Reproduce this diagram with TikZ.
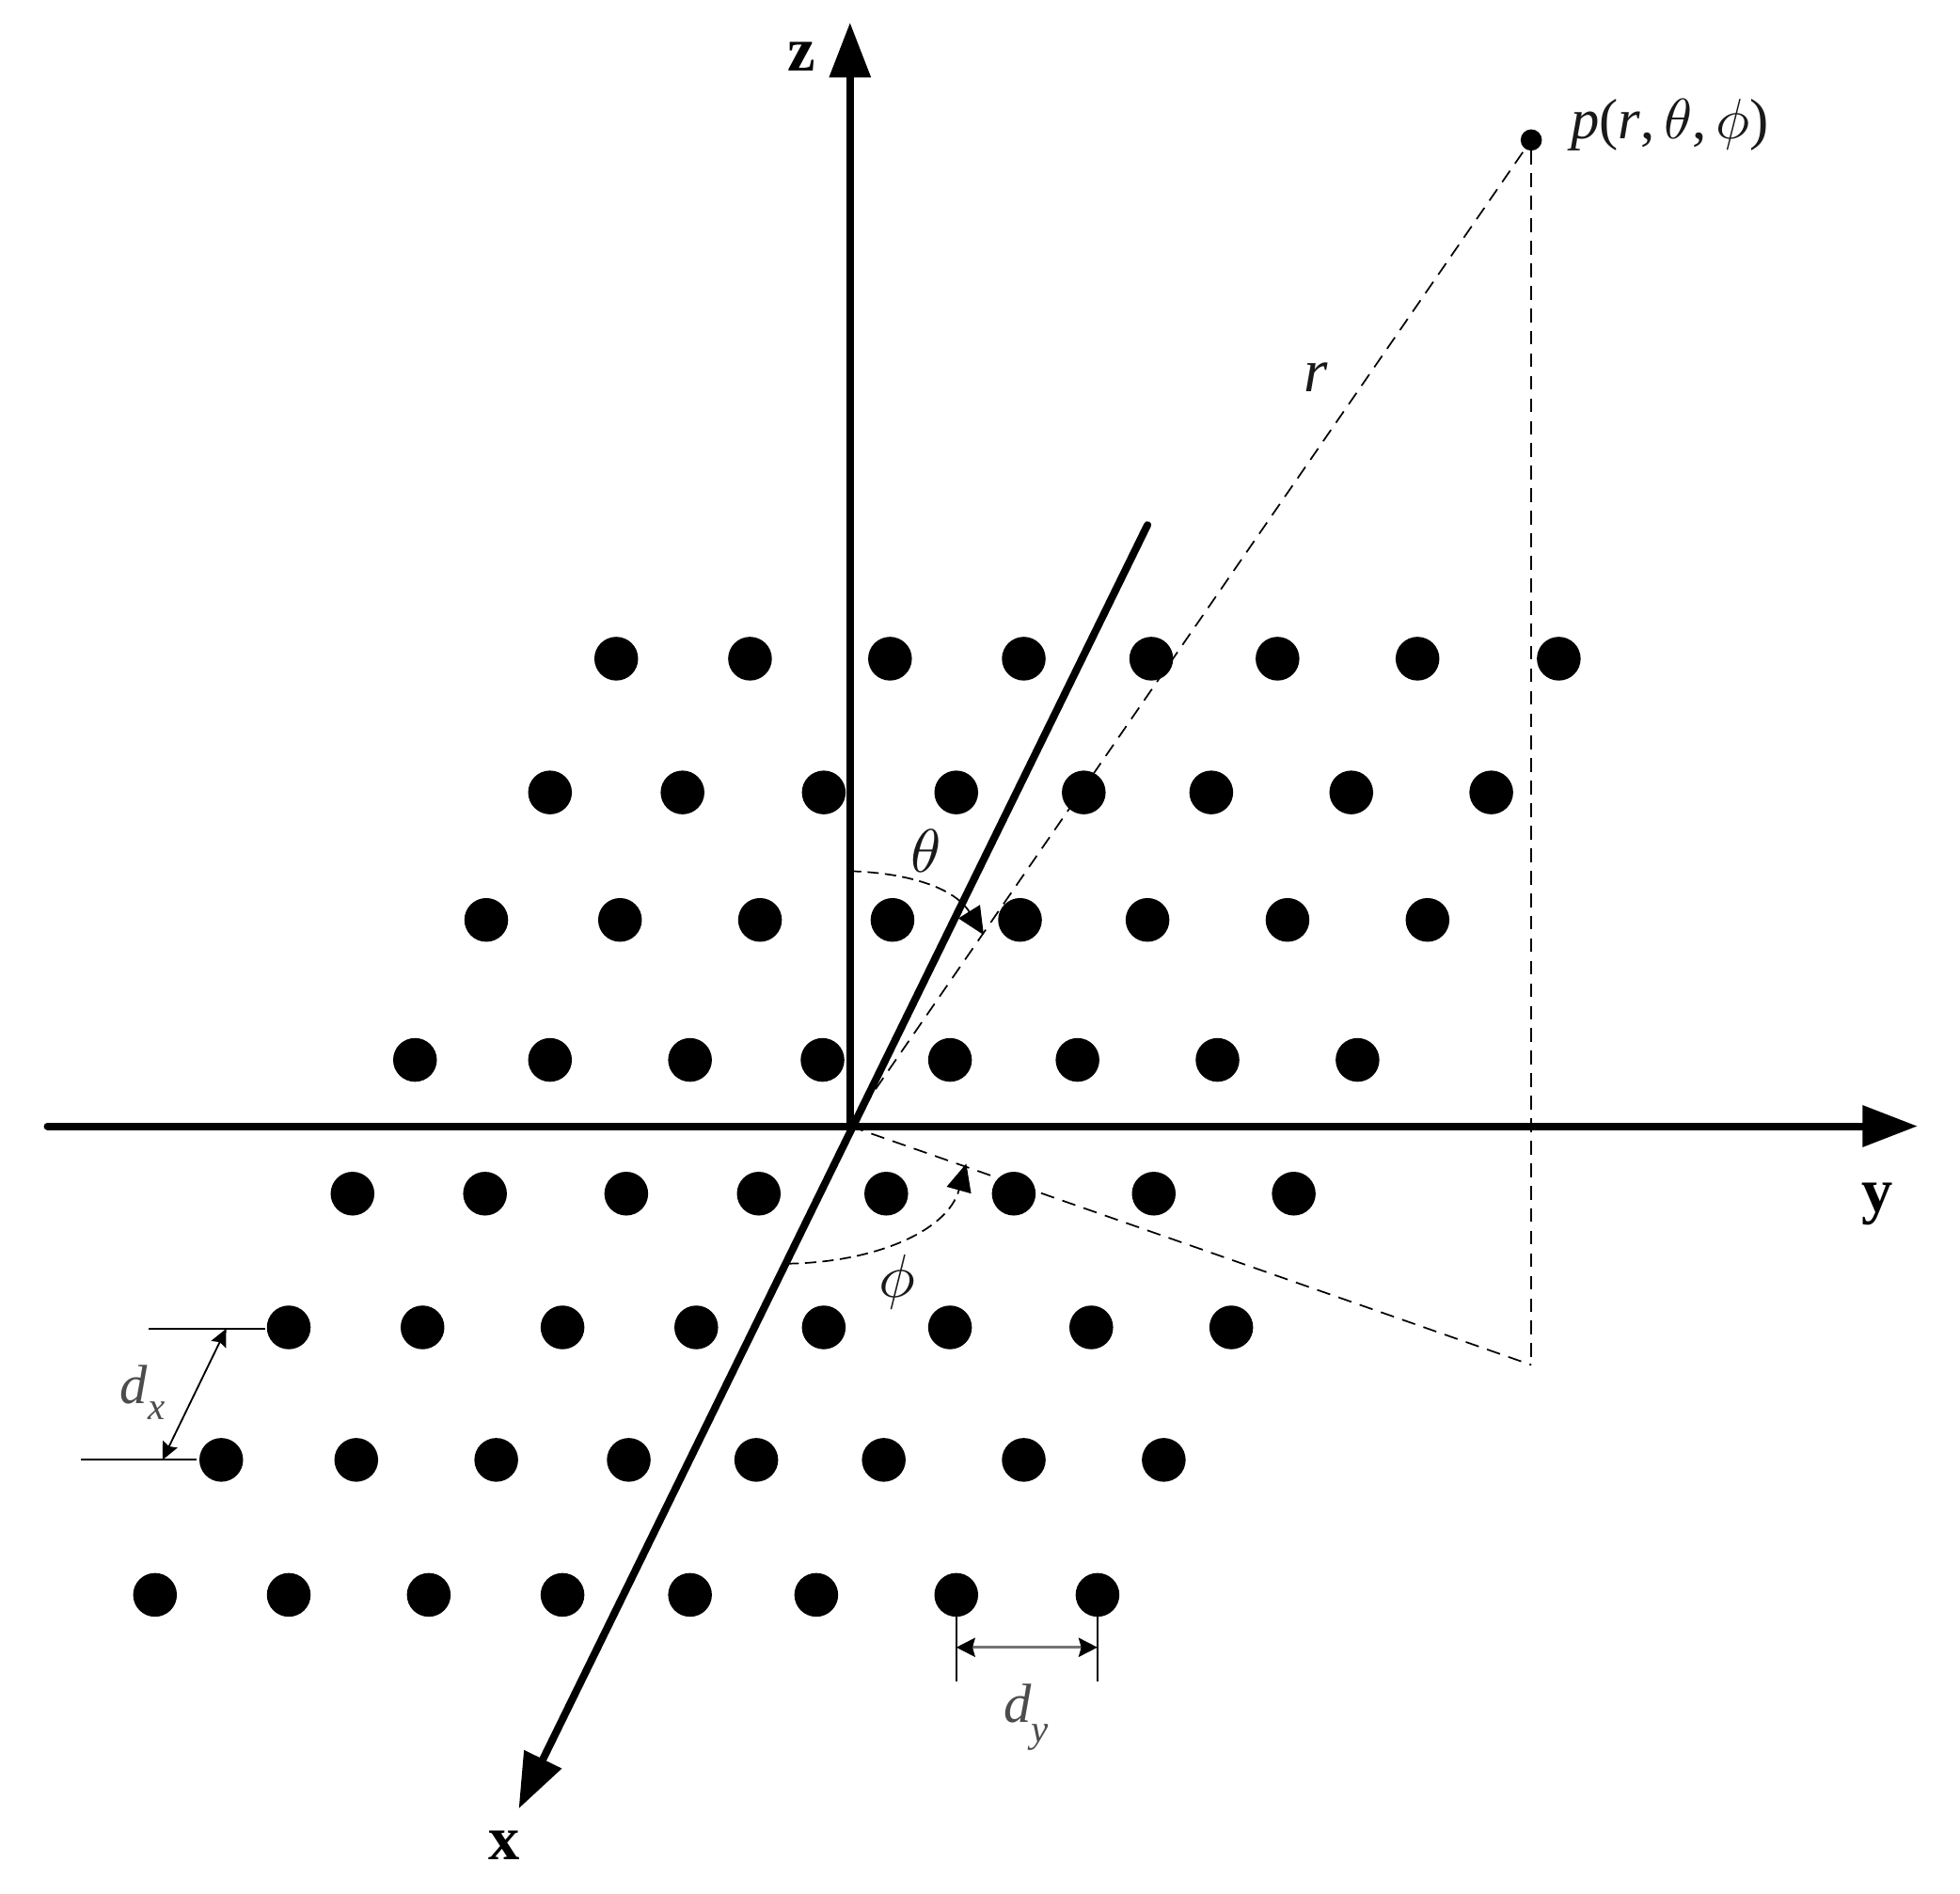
\documentclass[tikz,border=0pt]{standalone}
\usepackage{fontspec}
\setmainfont{Liberation Serif}
\usetikzlibrary{arrows.meta}
\tikzset{
  x=1pt,y=-1pt,
  dot/.style={circle,fill=black,draw=none,inner sep=0pt,minimum size=35pt},
  axis/.style={line width=6pt,line cap=round,-{Triangle[length=44pt,width=32pt]}},
  dimline/.style={line width=1.4pt,black},
  dimarrow/.style={line width=1.4pt,{Stealth[length=14pt,width=13pt,inset=2pt]}-{Stealth[length=14pt,width=13pt,inset=2pt]}},
  dimarrowgrey/.style={line width=2.6pt,draw=black!55,{Stealth[length=15pt,width=15pt,inset=2pt,color=black,fill=black]}-{Stealth[length=15pt,width=15pt,inset=2pt,color=black,fill=black]}},
  dashline/.style={line width=1.3pt,dash pattern=on 11pt off 7pt},
  anglearc/.style={line width=1.3pt,dash pattern=on 9pt off 5pt,-{Triangle[length=22pt,width=20pt]}},
  axislabel/.style={scale=5.0,font=\bfseries,inner sep=0pt},
  maths/.style={scale=4.9,inner sep=0pt,text=black!90},
}
\newcommand{\rownodes}[2]{%
  \foreach \px [count=\pi] in {#2} {\node[dot] (d#1-\pi) at (\px,#1+1) {};}%
}
\begin{document}
\begin{tikzpicture}
\useasboundingbox (0,0) rectangle (1568,1515);
\fill[white] (0,0) rectangle (1568,1515);
\rownodes{526}{493,600,712,819,921,1022,1134,1247}
\rownodes{633}{440,546,659,765,867,969,1081,1193}
\rownodes{735}{389,496,608,714,816,918,1030,1142}
\rownodes{847}{332,440,552,658,760,862,974,1086}
\rownodes{954}{282,388,501,607,709,811,923,1035}
\rownodes{1061}{231,338,450,557,659,760,873,985}
\rownodes{1167}{177,285,397,503,605,707,819,931}
\rownodes{1275}{124,231,343,450,552,653,765,878}

\coordinate (O) at (680,901);
\coordinate (ztip) at (680,18);
\coordinate (yneg) at (38,901);
\coordinate (ytip) at (1534,901);
\coordinate (xneg) at (918,420);
\coordinate (xtip) at (415,1447);
\coordinate (foot) at (1225,1092);
\node[circle,fill=black,inner sep=0pt,minimum size=17pt] (P) at (1225,112) {};

\draw[dashline] (O) -- (P);
\draw[dashline] (P) -- (foot);
\draw[dashline] (O) -- (foot);

\draw[axis] (O) -- (ztip);
\draw[axis] (yneg) -- (ytip);
\draw[axis] (xneg) -- (xtip);

\coordinate (ta) at (680,697);
\coordinate (tb) at (787,748);
\coordinate (pa) at (630,1011);
\coordinate (pb) at (773,931);
\draw[anglearc] (ta) .. controls (720,698) and (762,708) .. (tb);
\draw[anglearc] (pa) .. controls (700,1010) and (758,985) .. (pb);

\coordinate (dxa1) at (119,1063);
\coordinate (dxa2) at (212,1063);
\coordinate (dxb1) at (65,1168);
\coordinate (dxb2) at (157,1168);
\coordinate (dxt) at (181,1063);
\coordinate (dxl) at (130,1168);
\draw[dimline] (dxa1) -- (dxa2);
\draw[dimline] (dxb1) -- (dxb2);
\draw[dimarrow] (dxt) -- (dxl);

\coordinate (dya1) at (765,1292);
\coordinate (dya2) at (765,1345);
\coordinate (dyb1) at (878,1292);
\coordinate (dyb2) at (878,1345);
\coordinate (dyl) at (765,1318);
\coordinate (dyr) at (878,1318);
\draw[dimline] (dya1) -- (dya2);
\draw[dimline] (dyb1) -- (dyb2);
\draw[dimarrowgrey] (dyl) -- (dyr);

\node[axislabel] (lz) at (641,45) {z};
\node[axislabel] (ly) at (1502,963) {y};
\node[axislabel] (lx) at (403,1476) {x};
\node[maths] (lr) at (1053,302) {\itshape r};
\node[maths] (lth) at (741,681) {$\theta$};
\node[maths] (lph) at (718,1026) {$\phi$};
\node[maths,scale=0.93] (lp) at (1336,100) {{\itshape p}({\itshape r},\,$\theta$,\,$\phi$)};
\node[maths,scale=0.9,text=black!70] (ldx) at (114,1114) {{\itshape d}\raisebox{-3pt}{\scriptsize\itshape x}};
\node[maths,scale=0.9,text=black!70] (ldy) at (821,1374) {{\itshape d}\raisebox{-3.5pt}{\scriptsize\itshape y}};
\end{tikzpicture}
\end{document}
